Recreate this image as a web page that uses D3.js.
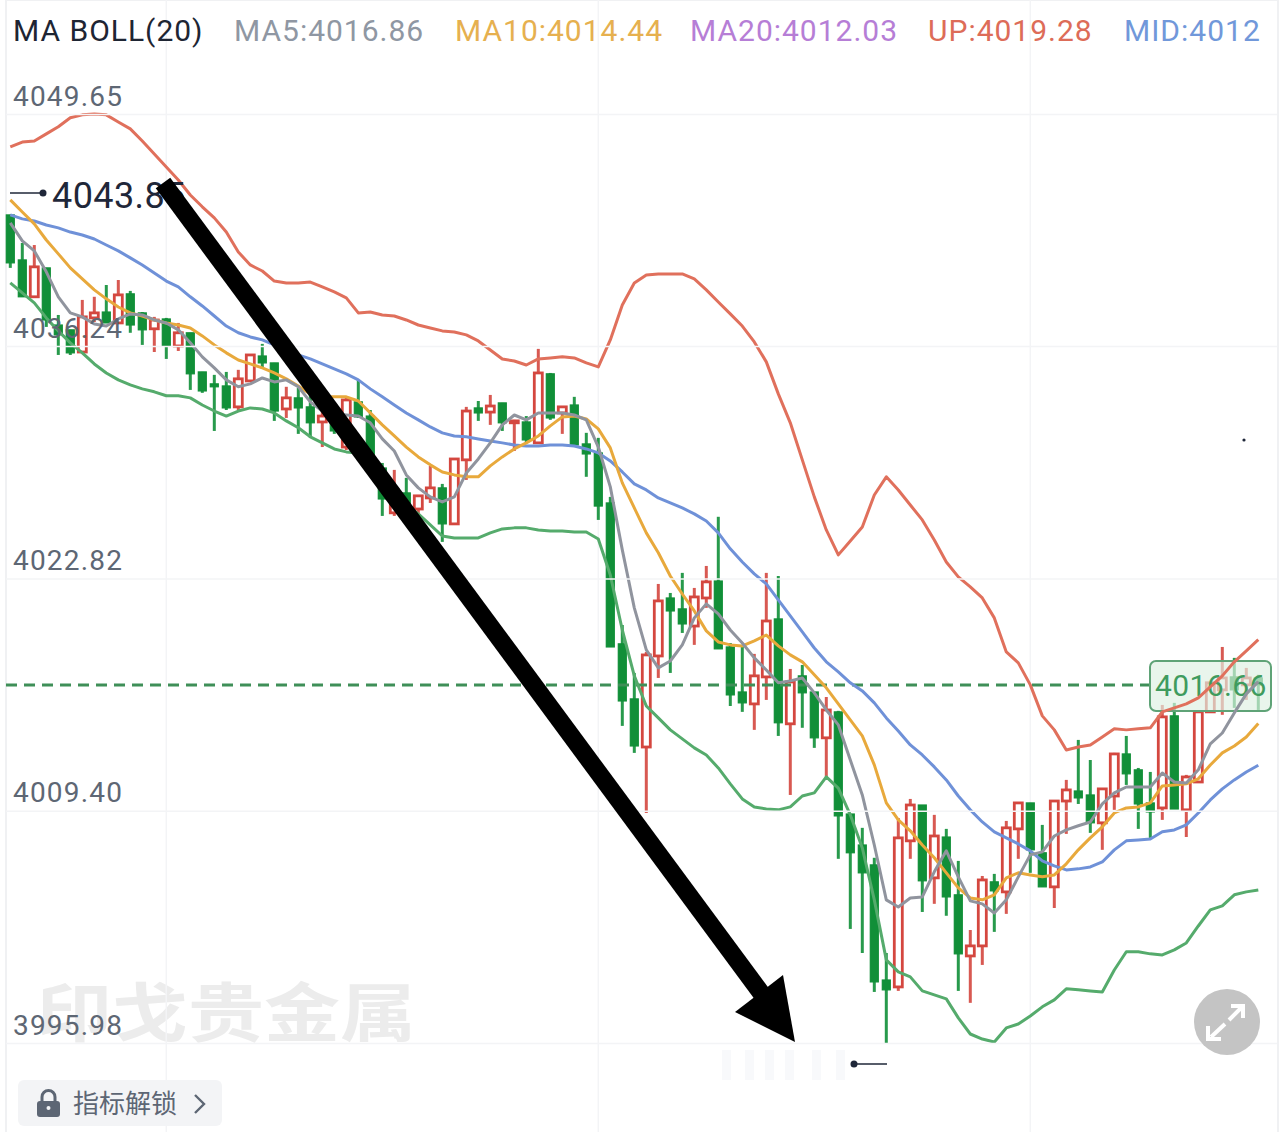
<!DOCTYPE html>
<html>
<head>
<meta charset="utf-8">
<script src="https://cdn.jsdelivr.net/npm/d3@7"></script>
<style>
  html, body { margin: 0; padding: 0; background: #fff; }
  svg { display: block; }
  text { font-family: Roboto, "Noto Sans CJK SC", sans-serif; }
</style>
</head>
<body>
<script>
const open = [4043.82,4041.22,4039.09,4040.76,4037.46,4037.18,4035.90,4037.87,4038.21,4037.58,4039.26,4038.16,4037.24,4037.81,4036.25,4037.01,4034.75,4034.06,4033.94,4032.73,4034.23,4035.67,4035.27,4032.61,4033.25,4032.73,4031.86,4032.09,4030.41,4033.02,4032.20,4029.20,4026.61,4027.76,4026.83,4027.47,4028.05,4025.97,4029.67,4032.67,4032.43,4032.96,4031.81,4031.86,4030.65,4034.64,4032.38,4032.84,4030.59,4030.07,4027.18,4019.04,4015.86,4013.08,4018.34,4021.69,4021.06,4020.07,4021.69,4022.67,4018.86,4016.26,4015.57,4017.13,4020.48,4014.42,4017.19,4016.26,4013.61,4015.11,4009.21,4007.42,4006.27,3999.62,3999.22,4007.66,4009.73,4005.52,4007.88,4004.54,4001.01,4001.59,4005.29,4004.71,4008.35,4009.85,4006.97,4005.00,4009.96,4010.54,4010.31,4008.70,4010.25,4012.68,4011.76,4009.85,4009.56,4014.88,4009.45,4011.06,4015.11,4016.38,4017.13,4016.67,4017.07];
const close = [4041.05,4039.09,4040.82,4037.75,4036.89,4035.85,4037.93,4038.16,4037.58,4039.20,4037.46,4037.18,4037.75,4036.25,4037.01,4034.64,4033.65,4033.89,4032.67,4034.35,4035.73,4035.27,4032.49,4033.25,4032.67,4031.81,4032.20,4031.34,4033.13,4032.15,4029.84,4027.41,4027.93,4026.61,4027.59,4028.05,4025.97,4029.72,4032.49,4032.38,4032.78,4031.81,4031.92,4030.82,4034.69,4032.09,4032.73,4030.53,4030.01,4027.00,4018.86,4015.74,4013.14,4018.40,4021.52,4020.94,4020.19,4021.75,4022.62,4018.75,4016.09,4015.63,4017.19,4020.36,4014.48,4016.84,4016.21,4013.61,4015.22,4009.10,4006.97,4005.81,3999.51,3999.05,4007.83,4009.73,4005.35,4007.94,4004.42,4001.13,4001.59,4005.40,4004.77,4008.41,4009.85,4007.14,4005.00,4009.96,4010.60,4010.14,4008.70,4010.66,4012.68,4011.53,4009.79,4009.33,4014.82,4009.50,4011.35,4015.11,4016.79,4017.07,4016.38,4017.07,4016.66];
const high = [4043.82,4042.20,4042.08,4040.76,4038.04,4037.18,4038.91,4039.09,4039.77,4040.06,4039.43,4038.21,4037.93,4037.87,4037.58,4037.01,4034.75,4034.58,4034.75,4034.87,4035.73,4036.37,4035.27,4033.89,4033.83,4033.42,4032.67,4032.43,4033.31,4034.29,4032.55,4029.49,4029.09,4028.63,4027.64,4029.32,4028.28,4029.72,4032.73,4033.07,4033.42,4032.96,4031.98,4032.20,4036.08,4034.69,4032.78,4033.31,4031.23,4030.94,4027.53,4020.13,4017.36,4018.57,4022.50,4021.98,4023.14,4022.27,4023.54,4026.38,4019.09,4018.86,4018.46,4023.14,4022.96,4017.59,4017.82,4016.26,4015.97,4015.17,4009.21,4008.41,4006.68,4001.18,4008.98,4010.08,4009.73,4009.16,4008.35,4006.50,4002.51,4005.63,4005.75,4008.81,4009.85,4009.85,4008.58,4009.96,4011.18,4013.49,4012.33,4010.66,4012.74,4013.72,4011.87,4011.64,4015.51,4015.63,4011.47,4015.11,4016.79,4018.86,4018.23,4017.65,4017.25];
const low = [4040.76,4039.09,4039.09,4037.35,4035.73,4035.73,4035.90,4037.63,4037.58,4037.58,4037.01,4036.31,4035.90,4035.50,4035.96,4033.71,4033.54,4031.34,4032.55,4032.55,4034.23,4034.92,4031.92,4032.09,4031.17,4030.94,4030.41,4031.17,4030.24,4032.09,4029.67,4026.43,4026.43,4026.49,4026.49,4027.18,4024.93,4025.97,4028.51,4031.92,4031.69,4031.34,4030.18,4030.65,4030.65,4031.98,4031.17,4030.41,4028.69,4026.20,4018.86,4014.30,4012.74,4009.27,4017.07,4017.36,4019.67,4018.98,4021.12,4018.75,4015.45,4015.11,4014.07,4015.80,4013.72,4010.31,4014.19,4013.03,4011.35,4006.62,4002.57,4001.18,3998.93,3995.98,3998.99,4006.62,4003.55,4004.02,4003.33,3998.99,3998.30,4000.49,4002.40,4003.44,4006.62,4005.81,4005.00,4003.78,4008.06,4009.79,4008.12,4007.14,4009.45,4010.89,4008.35,4007.83,4008.87,4009.50,4007.88,4011.00,4015.11,4014.94,4015.34,4015.80,4015.22];

const ma5 = [4043.36,4042.32,4041.74,4040.53,4039.09,4038.16,4037.93,4037.52,4037.40,4037.81,4038.10,4038.04,4037.75,4037.58,4037.18,4036.43,4035.62,4034.98,4034.29,4033.89,4034.06,4034.40,4034.17,4034.29,4033.89,4033.02,4032.49,4032.32,4032.26,4032.20,4031.81,4030.88,4030.18,4028.80,4028.05,4027.53,4027.24,4027.53,4028.91,4029.72,4030.65,4031.69,4032.26,4031.98,4032.38,4032.38,4032.38,4032.26,4031.98,4030.41,4028.11,4024.47,4021.12,4018.69,4017.65,4018.05,4018.98,4020.54,4021.35,4020.77,4019.84,4019.09,4018.23,4017.53,4016.79,4016.90,4017.07,4016.21,4015.22,4014.36,4012.33,4010.31,4007.42,4004.25,4003.84,4004.36,4004.42,4005.87,4007.08,4005.58,4004.19,4004.02,4003.49,4004.25,4005.58,4006.85,4007.02,4007.94,4008.29,4008.53,4008.75,4009.79,4010.43,4010.77,4010.77,4010.77,4011.58,4011.06,4011.00,4011.76,4013.26,4013.89,4015.05,4016.15,4016.86];
const ma10 = [4044.69,4043.99,4043.30,4042.37,4041.57,4040.76,4040.12,4039.49,4038.97,4038.50,4038.16,4037.98,4037.75,4037.58,4037.46,4037.29,4036.83,4036.31,4035.85,4035.44,4035.21,4034.98,4034.69,4034.35,4033.94,4033.48,4033.31,4033.31,4033.31,4033.07,4032.38,4031.69,4031.05,4030.41,4029.84,4029.38,4028.97,4028.80,4028.69,4028.69,4029.32,4029.84,4030.30,4030.65,4031.05,4031.63,4032.15,4032.20,4032.03,4031.46,4030.36,4028.34,4026.89,4025.45,4024.30,4022.96,4021.92,4020.94,4019.79,4019.15,4018.98,4018.92,4019.21,4019.55,4018.92,4018.40,4018.00,4017.25,4016.50,4015.57,4014.65,4013.72,4012.05,4009.85,4008.87,4008.24,4007.42,4006.68,4005.81,4004.94,4004.36,4004.25,4004.54,4005.52,4005.81,4005.69,4005.58,4005.69,4006.33,4007.14,4007.83,4008.47,4009.27,4009.56,4009.62,4009.85,4010.83,4010.89,4010.95,4011.24,4012.04,4012.74,4013.14,4013.66,4014.44];
const bollUp = [4047.75,4048.03,4048.09,4048.50,4048.91,4049.43,4049.60,4049.65,4049.60,4049.19,4048.79,4048.09,4047.34,4046.59,4045.84,4044.97,4044.29,4043.65,4042.83,4041.68,4040.93,4040.58,4040.00,4039.89,4039.89,4039.94,4039.66,4039.37,4039.03,4038.16,4038.21,4038.04,4037.98,4037.75,4037.46,4037.29,4037.12,4037.06,4036.89,4036.54,4036.02,4035.50,4035.38,4035.15,4035.50,4035.56,4035.62,4035.56,4035.27,4035.04,4036.60,4038.62,4039.89,4040.35,4040.41,4040.41,4040.41,4040.12,4039.49,4038.79,4038.10,4037.40,4036.48,4035.33,4033.48,4031.81,4029.67,4027.53,4025.62,4024.18,4024.98,4025.79,4027.64,4028.69,4027.93,4027.06,4026.20,4025.04,4023.77,4022.91,4022.33,4021.69,4020.54,4018.57,4017.94,4016.67,4014.88,4014.07,4012.91,4013.08,4013.20,4013.66,4014.13,4014.07,4014.13,4014.19,4015.11,4015.34,4015.57,4015.92,4016.55,4017.19,4018.00,4018.63,4019.28];
const bollMid = [4043.82,4043.59,4043.47,4043.24,4043.07,4042.83,4042.66,4042.43,4042.08,4041.74,4041.34,4040.93,4040.47,4040.00,4039.66,4039.09,4038.56,4037.98,4037.40,4037.01,4036.77,4036.60,4036.31,4036.02,4035.73,4035.50,4035.21,4034.92,4034.64,4034.29,4033.77,4033.31,4032.84,4032.38,4031.98,4031.57,4031.23,4031.05,4031.00,4030.88,4030.76,4030.65,4030.53,4030.47,4030.47,4030.53,4030.53,4030.47,4030.30,4030.07,4029.61,4028.97,4028.28,4027.93,4027.47,4027.18,4026.89,4026.55,4026.14,4025.45,4024.53,4023.77,4023.08,4022.50,4021.58,4020.65,4019.73,4018.80,4018.00,4017.42,4016.79,4016.32,4015.63,4014.76,4014.01,4013.20,4012.62,4011.93,4011.18,4010.25,4009.45,4008.75,4008.18,4007.83,4007.48,4007.08,4006.50,4006.21,4005.98,4006.04,4006.15,4006.44,4007.14,4007.66,4007.71,4007.77,4008.18,4008.29,4008.58,4009.27,4010.02,4010.66,4011.18,4011.64,4012.03];
const bollLow = [4039.89,4039.32,4038.74,4037.87,4037.12,4036.43,4035.85,4035.21,4034.69,4034.29,4034.00,4033.77,4033.60,4033.37,4033.37,4033.25,4032.84,4032.49,4032.20,4032.49,4032.67,4032.61,4032.38,4031.92,4031.52,4031.00,4030.65,4030.30,4030.13,4030.07,4029.55,4028.63,4027.64,4027.06,4026.55,4025.91,4025.27,4025.16,4025.16,4025.16,4025.45,4025.68,4025.74,4025.74,4025.62,4025.56,4025.56,4025.50,4025.50,4025.10,4023.02,4019.84,4017.19,4015.45,4014.76,4014.07,4013.55,4013.03,4012.62,4011.87,4010.95,4010.08,4009.62,4009.50,4009.45,4009.62,4010.25,4010.43,4011.35,4010.71,4009.16,4007.25,4004.25,4000.78,4000.09,3999.80,3998.99,3998.76,3998.53,3997.43,3996.50,3996.21,3996.04,3996.85,3997.08,3997.54,3998.07,3998.47,3999.11,3999.05,3998.99,3998.93,4000.20,4001.25,4001.25,4001.13,4001.07,4001.36,4001.76,4002.74,4003.67,4003.90,4004.54,4004.71,4004.82];

const yTicks = [4049.65, 4036.24, 4022.82, 4009.40, 3995.98];
const gridCandles = [13, 49, 85];
const lastPrice = 4016.66;
const maxPrice = "4043.85";
const legendLabels = ["MA BOLL(20)", "MA5:4016.86", "MA10:4014.44", "MA20:4012.03", "UP:4019.28", "MID:4012"];

const width = 1284, height = 1132;
const red = "#d4473f", green = "#118f38";

const x = d3.scaleLinear().domain([0, open.length - 1]).range([10.3, 1258.3]);
const y = d3.scaleLinear().domain([3995.98, 4049.65]).range([1043, 114]);

const svg = d3.select("body").append("svg").attr("width", width).attr("height", height);

// frame
svg.append("rect").attr("x", 5).attr("y", 0).attr("width", 2).attr("height", height).attr("fill", "#f0f1f3");
svg.append("rect").attr("x", 1277).attr("y", 0).attr("width", 2).attr("height", height).attr("fill", "#f0f1f3");
svg.append("rect").attr("x", 5).attr("y", 0).attr("width", 1274).attr("height", 1).attr("fill", "#f0f1f3");

// watermark
svg.append("text").attr("x", 36).attr("y", 1036).attr("font-size", 64).attr("font-weight", 700)
  .attr("textLength", 380).attr("lengthAdjust", "spacingAndGlyphs")
  .style("font-family", "'Noto Sans CJK SC'").attr("fill", "#ececec").text("印戈贵金属");

// grid
const gridV = svg.append("g").attr("stroke", "#f3f4f6").attr("stroke-width", 1.5);
gridV.selectAll("line").data(gridCandles).enter().append("line")
  .attr("x1", d => x(d)).attr("x2", d => x(d)).attr("y1", 0).attr("y2", height);

const yAxis = svg.append("g").attr("transform", "translate(6,0)")
  .call(d3.axisRight(y).tickValues(yTicks).tickSize(1271).tickFormat(d3.format(".2f")));
yAxis.select(".domain").remove();
yAxis.selectAll("line").attr("stroke", "#f3f4f6").attr("stroke-width", 1.5);

// candles
const candles = svg.append("g").selectAll("g").data(d3.range(open.length)).enter().append("g");
const isUp = i => close[i] >= open[i];
const color = i => isUp(i) ? red : green;
candles.append("line").attr("x1", i => x(i)).attr("x2", i => x(i))
  .attr("y1", i => y(high[i])).attr("y2", i => y(low[i]))
  .attr("stroke", color).attr("stroke-width", 3).attr("stroke-opacity", 0.9);
candles.append("rect")
  .attr("x", i => x(i) - 4)
  .attr("width", 8)
  .attr("y", i => y(Math.max(open[i], close[i])))
  .attr("height", i => Math.max(1, y(Math.min(open[i], close[i])) - y(Math.max(open[i], close[i]))))
  .attr("fill", i => isUp(i) ? "#fff" : green)
  .attr("stroke", color).attr("stroke-width", i => isUp(i) ? 2.8 : 1.2);

// last price
svg.append("line").attr("x1", 6).attr("x2", 1149).attr("y1", y(lastPrice)).attr("y2", y(lastPrice))
  .attr("stroke", "#3f8f58").attr("stroke-width", 3).attr("stroke-dasharray", "11 7");
svg.append("rect").attr("x", 1150).attr("y", 661).attr("width", 121).attr("height", 50).attr("rx", 6)
  .attr("fill", "#dff0e3").attr("fill-opacity", 0.68).attr("stroke", "#5fa377").attr("stroke-width", 2);
svg.append("text").attr("x", 1155).attr("y", 696).attr("font-size", 30).attr("letter-spacing", 0.4)
  .attr("fill", "#3f9b5e").text(lastPrice.toFixed(2));

// moving averages and bands
const line = d3.line().x((d, i) => x(i)).y(d => y(d));
const series = [
  [bollLow, "#55ab6c"],
  [bollUp, "#e0705c"],
  [bollMid, "#6f91d8"],
  [ma10, "#e8a93c"],
  [ma5, "#90949e"]
];
svg.append("g").selectAll("path").data(series).enter().append("path")
  .attr("d", d => line(d[0]))
  .attr("fill", "none").attr("stroke", d => d[1]).attr("stroke-width", 3).attr("stroke-linejoin", "round");

// tick labels sit above their grid line
yAxis.selectAll("text")
  .attr("x", 7).attr("dy", null).attr("y", -9)
  .attr("text-anchor", "start")
  .attr("font-size", 28).attr("letter-spacing", 1.2).attr("fill", "#5e6774")
  .style("font-family", "Roboto");
yAxis.raise();

// legend
const legendX = [13, 234, 455, 690, 928, 1124];
const legendColors = ["#1e2533", "#8f97a3", "#e6b04f", "#b67ed6", "#dd6c58", "#7198da"];
svg.append("g").selectAll("text").data(legendLabels).enter().append("text")
  .attr("x", (d, i) => legendX[i]).attr("y", 41)
  .attr("font-size", 30).attr("letter-spacing", 1)
  .attr("fill", (d, i) => legendColors[i]).text(d => d);

// high / low markers
svg.append("line").attr("x1", 10).attr("x2", 43).attr("y1", 193).attr("y2", 193).attr("stroke", "#1f2739").attr("stroke-width", 1.5);
svg.append("circle").attr("cx", 43).attr("cy", 193).attr("r", 3.5).attr("fill", "#1f2739");
svg.append("text").attr("x", 52).attr("y", 208).attr("font-size", 36).attr("letter-spacing", 0.4).attr("fill", "#1f2739").text(maxPrice);
svg.append("g").selectAll("rect").data([722, 745, 765, 785, 812, 836]).enter().append("rect")
  .attr("x", d => d).attr("y", 1050).attr("width", 9).attr("height", 30).attr("fill", "#f8f9fb");
svg.append("line").attr("x1", 854).attr("x2", 887).attr("y1", 1064).attr("y2", 1064).attr("stroke", "#1f2739").attr("stroke-width", 1.5);
svg.append("circle").attr("cx", 854).attr("cy", 1064).attr("r", 3.5).attr("fill", "#1f2739");
svg.append("circle").attr("cx", 1244).attr("cy", 440).attr("r", 1.6).attr("fill", "#1f2739");

// hand drawn arrow
svg.append("line").attr("x1", 163).attr("y1", 183).attr("x2", 770).attr("y2", 1005).attr("stroke", "#000").attr("stroke-width", 18);
svg.append("path").attr("d", "M783,975L795,1042L735,1012Z").attr("fill", "#000");

// expand button
svg.append("circle").attr("cx", 1227).attr("cy", 1022).attr("r", 33).attr("fill", "#c4c4c4");
svg.append("path").attr("d", "M1229,1020L1242,1007M1231,1006H1243V1018M1225,1024L1211,1037M1208,1026V1039H1221")
  .attr("fill", "none").attr("stroke", "#fff").attr("stroke-width", 4);

// unlock button
svg.append("rect").attr("x", 18).attr("y", 1080).attr("width", 204).attr("height", 46).attr("rx", 6).attr("fill", "#f3f4f6");
svg.append("rect").attr("x", 37).attr("y", 1101).attr("width", 23).attr("height", 16).attr("rx", 3).attr("fill", "#5d6674");
svg.append("path").attr("d", "M42,1102V1097a6.5,6.5 0 0 1 13,0V1102").attr("fill", "none").attr("stroke", "#5d6674").attr("stroke-width", 3);
svg.append("circle").attr("cx", 48.5).attr("cy", 1108).attr("r", 2).attr("fill", "#f3f4f6");
svg.append("text").attr("x", 73).attr("y", 1113).attr("font-size", 26).attr("fill", "#5d6674")
  .style("font-family", "'Noto Sans CJK SC'").text("指标解锁");
svg.append("path").attr("d", "M195,1095L204,1104L195,1113").attr("fill", "none").attr("stroke", "#5d6674").attr("stroke-width", 2.4);
</script>
</body>
</html>
